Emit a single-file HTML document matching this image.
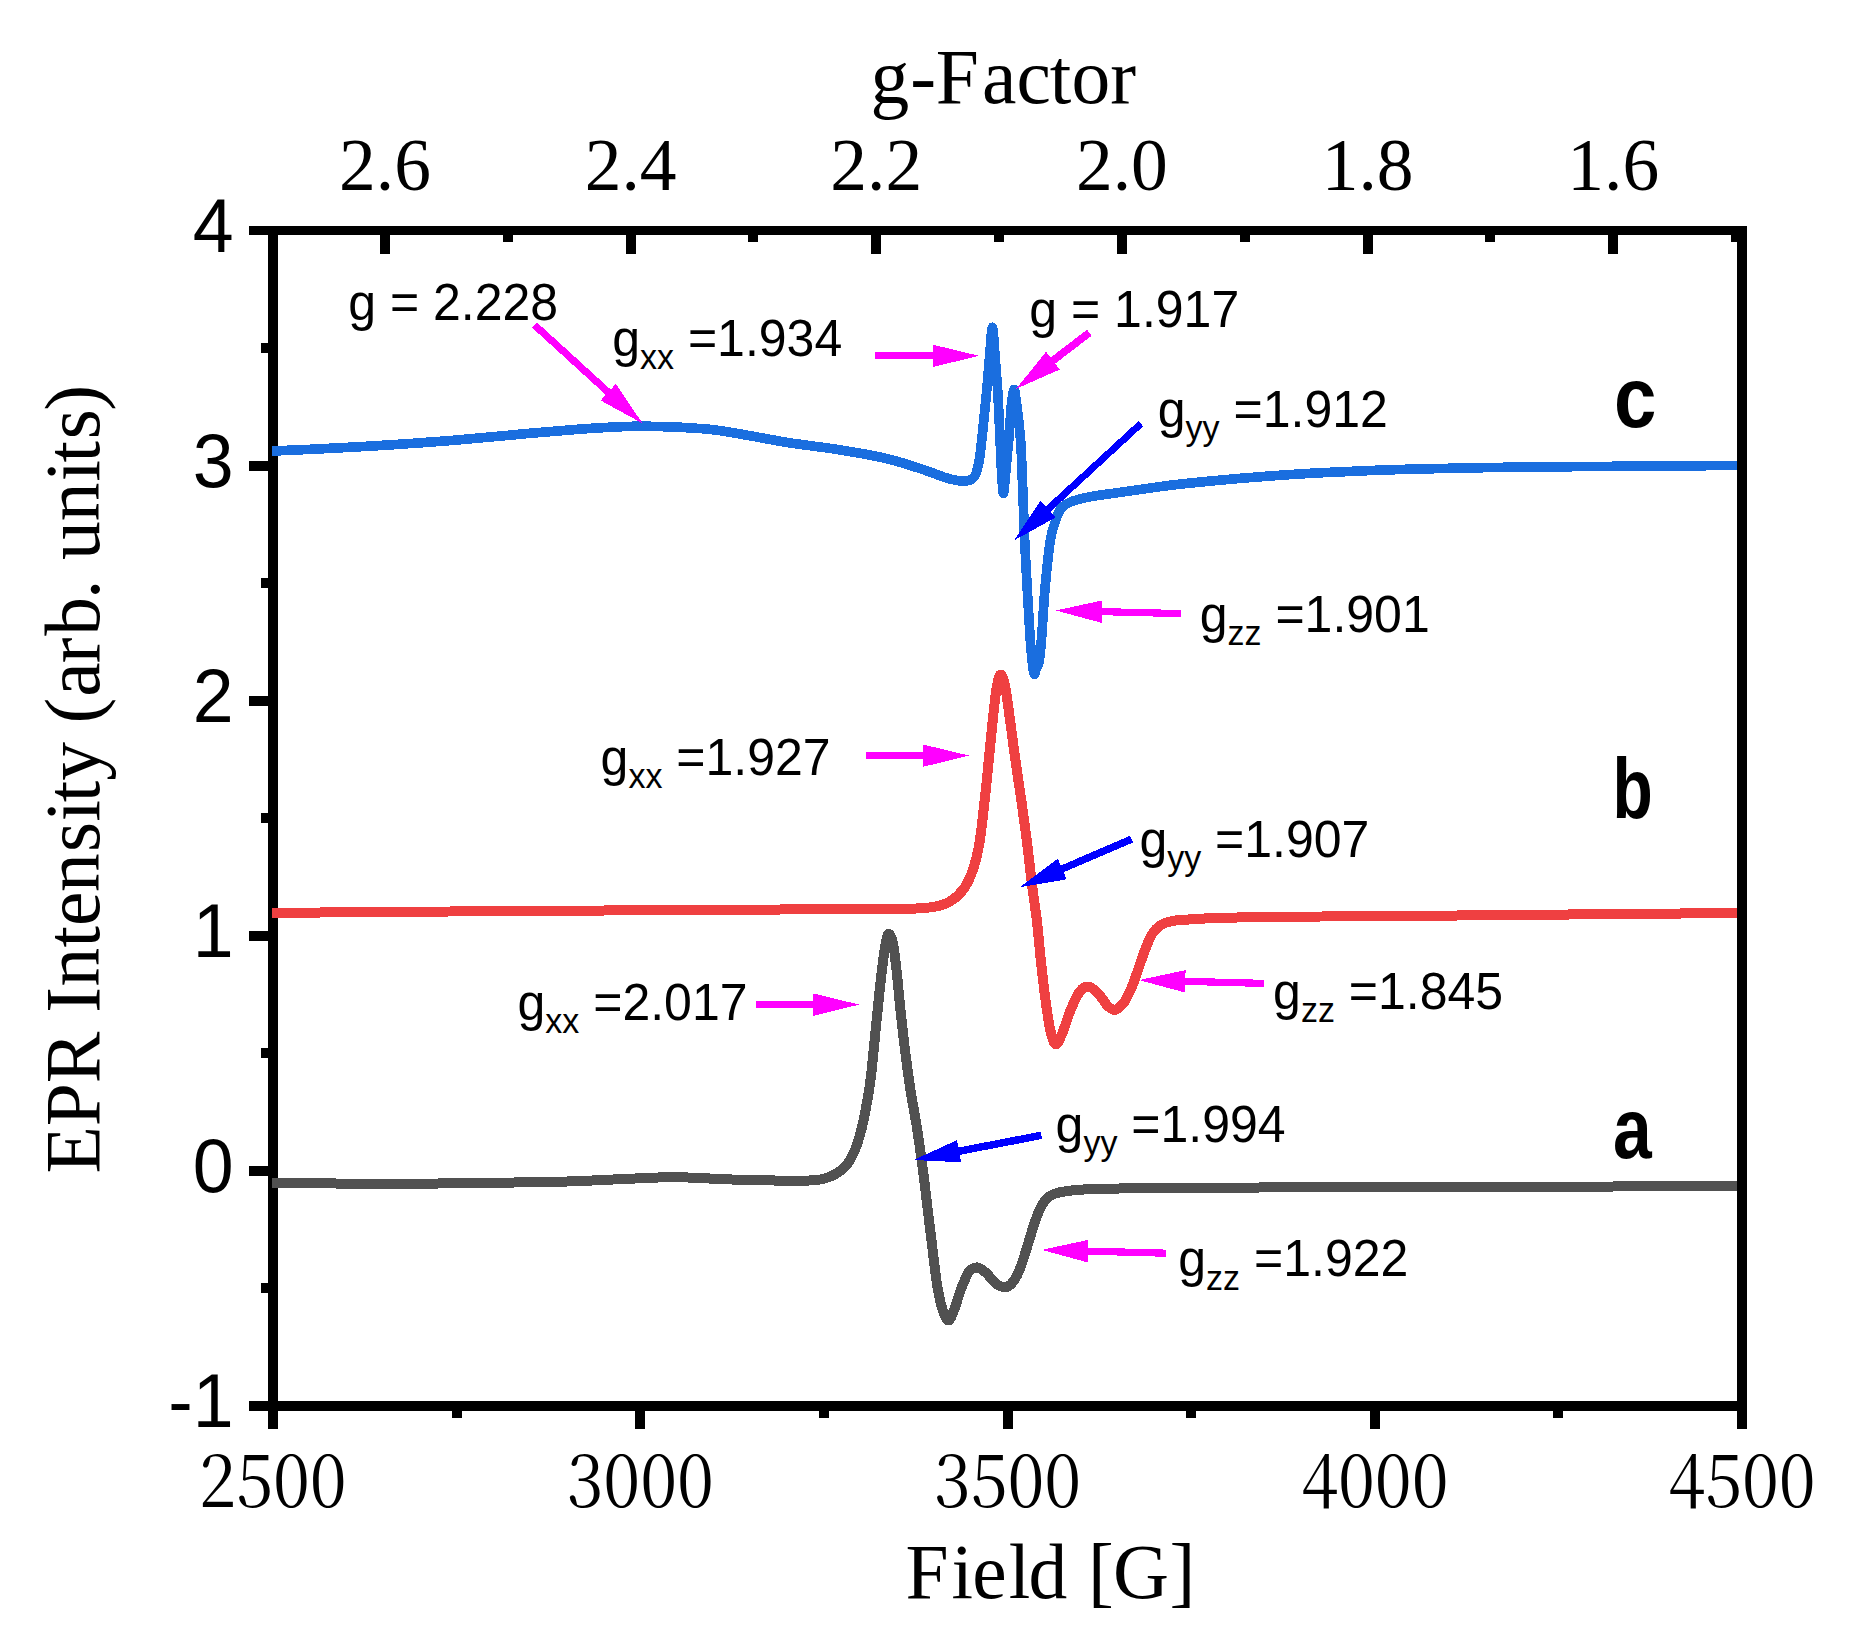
<!DOCTYPE html>
<html lang="en"><head><meta charset="utf-8"><title>EPR spectra</title>
<style>html,body{margin:0;padding:0;background:#fff}svg{display:block}.ser{font-family:"Liberation Serif","Times New Roman",serif}.san{font-family:"Liberation Sans",Arial,sans-serif}.sun{font-family:"Noto Serif CJK SC","Liberation Serif",serif}</style></head><body>
<svg width="1857" height="1640" viewBox="0 0 1857 1640">
<rect width="1857" height="1640" fill="#fff"/>
<defs><clipPath id="plot"><rect x="272" y="235" width="1465" height="1166"/></clipPath></defs>
<g fill="#000" shape-rendering="crispEdges">
<rect x="268" y="226" width="10" height="1203"/>
<rect x="249" y="226" width="1498" height="9"/>
<rect x="249" y="1401" width="1488" height="10"/>
<rect x="249" y="461" width="19" height="10"/>
<rect x="249" y="696" width="19" height="10"/>
<rect x="249" y="931" width="19" height="10"/>
<rect x="249" y="1166" width="19" height="10"/>
<rect x="261" y="343" width="7" height="10"/>
<rect x="261" y="578" width="7" height="10"/>
<rect x="261" y="813" width="7" height="10"/>
<rect x="261" y="1048" width="7" height="10"/>
<rect x="261" y="1283" width="7" height="10"/>
<rect x="635" y="1411" width="10" height="18"/>
<rect x="1003" y="1411" width="10" height="18"/>
<rect x="1370" y="1411" width="10" height="18"/>
<rect x="452" y="1411" width="10" height="7"/>
<rect x="819" y="1411" width="10" height="7"/>
<rect x="1186" y="1411" width="10" height="7"/>
<rect x="1553" y="1411" width="10" height="7"/>
<rect x="380" y="235" width="10" height="19"/>
<rect x="503" y="235" width="10" height="7"/>
<rect x="626" y="235" width="10" height="19"/>
<rect x="748" y="235" width="10" height="7"/>
<rect x="871" y="235" width="10" height="19"/>
<rect x="994" y="235" width="10" height="7"/>
<rect x="1117" y="235" width="10" height="19"/>
<rect x="1240" y="235" width="10" height="7"/>
<rect x="1363" y="235" width="10" height="19"/>
<rect x="1485" y="235" width="10" height="7"/>
<rect x="1608" y="235" width="10" height="19"/>
<rect x="1731" y="235" width="10" height="7"/>
</g>
<g fill="none" stroke-linejoin="round" stroke-linecap="butt" clip-path="url(#plot)" shape-rendering="crispEdges">
<path d="M271.0,1183.3 C296.1,1183.3 375.0,1183.8 421.6,1183.6 C468.2,1183.4 518.5,1182.7 550.8,1182.0 C583.1,1181.3 594.9,1180.2 615.4,1179.4 C635.9,1178.6 654.8,1177.2 673.6,1177.2 C692.5,1177.2 710.8,1178.8 728.5,1179.4 C746.2,1180.0 767.0,1180.4 780.0,1180.6 C793.0,1180.8 799.6,1180.9 806.8,1180.6 C813.9,1180.3 818.0,1180.2 822.9,1179.0 C827.8,1177.8 832.3,1176.0 836.3,1173.6 C840.3,1171.1 844.0,1168.3 847.1,1164.3 C850.2,1160.3 852.7,1155.5 855.1,1149.5 C857.5,1143.5 859.8,1136.0 861.8,1128.0 C863.8,1120.0 865.6,1110.1 867.2,1101.2 C868.8,1092.3 869.9,1085.6 871.2,1074.4 C872.5,1063.2 873.9,1047.5 875.2,1034.1 C876.6,1020.7 877.9,1006.4 879.3,993.9 C880.6,981.4 882.1,968.1 883.3,959.0 C884.5,949.9 885.5,943.6 886.5,939.4 C887.5,935.2 888.2,933.5 889.2,933.9 C890.2,934.3 891.5,936.5 892.7,942.0 C893.9,947.5 895.0,956.2 896.2,967.1 C897.5,978.0 898.8,993.9 900.2,1007.3 C901.6,1020.7 903.1,1034.2 904.7,1047.6 C906.4,1061.0 908.1,1074.4 910.1,1087.8 C912.1,1101.2 914.9,1114.6 917.0,1128.0 C919.1,1141.4 920.9,1154.9 922.7,1168.3 C924.5,1181.7 926.0,1195.1 927.6,1208.5 C929.2,1221.9 931.0,1236.3 932.5,1248.8 C934.0,1261.3 935.3,1273.6 936.9,1283.6 C938.5,1293.6 940.4,1302.8 942.3,1309.0 C944.2,1315.2 946.5,1320.5 948.5,1320.5 C950.5,1320.5 952.3,1314.2 954.4,1309.0 C956.5,1303.8 958.6,1295.2 961.1,1289.0 C963.6,1282.8 966.3,1275.2 969.1,1271.6 C971.9,1268.0 974.8,1267.2 977.7,1267.5 C980.6,1267.8 983.6,1270.7 986.6,1273.4 C989.6,1276.1 992.7,1281.3 996.0,1283.6 C999.3,1285.9 1003.1,1287.8 1006.2,1287.1 C1009.3,1286.4 1012.2,1283.3 1014.7,1279.6 C1017.2,1275.9 1019.1,1270.9 1021.4,1264.9 C1023.6,1258.9 1026.0,1250.6 1028.2,1243.4 C1030.5,1236.2 1032.7,1228.2 1034.9,1221.9 C1037.1,1215.6 1039.1,1210.0 1041.6,1205.8 C1044.0,1201.5 1046.2,1198.7 1049.6,1196.4 C1052.9,1194.1 1055.2,1193.1 1061.7,1191.9 C1068.2,1190.7 1077.3,1189.8 1088.5,1189.2 C1099.7,1188.6 1113.5,1188.6 1128.8,1188.4 C1144.0,1188.2 1151.5,1188.1 1180.0,1187.9 C1208.5,1187.7 1246.7,1187.5 1300.0,1187.3 C1353.3,1187.1 1426.3,1187.0 1500.0,1186.8 C1573.7,1186.6 1701.7,1186.3 1742.0,1186.2" stroke="#515151" stroke-width="10"/>
<path d="M271.0,912.9 C300.8,912.7 389.0,911.9 450.0,911.5 C511.0,911.1 578.7,910.6 637.0,910.3 C695.3,909.9 759.5,909.6 800.0,909.4 C840.5,909.2 862.2,909.4 880.0,909.3 C897.8,909.2 897.8,909.4 906.8,909.0 C915.8,908.6 926.5,908.1 933.7,906.9 C940.9,905.7 944.9,904.5 949.8,901.6 C954.7,898.7 959.4,894.6 963.2,889.5 C967.0,884.4 969.9,878.3 972.6,870.7 C975.3,863.1 977.3,855.5 979.3,843.9 C981.3,832.3 983.0,814.9 984.6,801.0 C986.2,787.1 987.4,774.1 988.7,760.7 C990.1,747.3 991.4,732.7 992.7,720.5 C994.0,708.3 995.4,694.9 996.7,687.3 C998.0,679.6 999.3,674.6 1000.7,674.6 C1002.1,674.6 1003.7,679.6 1005.3,687.3 C1006.9,694.9 1008.4,708.3 1010.1,720.5 C1011.8,732.7 1013.6,747.3 1015.5,760.7 C1017.4,774.1 1019.4,787.1 1021.4,801.0 C1023.4,814.9 1025.5,830.5 1027.2,843.9 C1028.9,857.3 1030.0,868.5 1031.6,881.5 C1033.2,894.5 1035.4,908.3 1037.0,921.7 C1038.6,935.1 1039.5,948.5 1041.0,961.9 C1042.5,975.3 1044.2,990.8 1045.8,1002.2 C1047.4,1013.6 1048.8,1023.5 1050.4,1030.5 C1052.1,1037.5 1053.7,1044.0 1055.7,1044.4 C1057.7,1044.8 1059.9,1038.7 1062.4,1033.0 C1064.9,1027.3 1067.6,1017.1 1070.5,1010.2 C1073.4,1003.3 1076.9,995.3 1079.9,991.4 C1082.9,987.5 1085.6,986.1 1088.7,986.6 C1091.8,987.1 1095.4,990.8 1098.6,994.1 C1101.8,997.4 1105.2,1003.6 1108.0,1006.2 C1110.8,1008.8 1112.8,1010.4 1115.5,1009.7 C1118.2,1009.0 1121.3,1006.1 1124.1,1002.2 C1126.9,998.3 1129.7,991.9 1132.2,986.1 C1134.7,980.3 1136.7,973.6 1138.9,967.3 C1141.1,961.0 1143.4,954.1 1145.6,948.5 C1147.8,942.9 1149.8,937.6 1152.3,933.8 C1154.8,929.9 1157.1,927.5 1160.4,925.4 C1163.8,923.3 1167.1,922.0 1172.4,921.0 C1177.7,920.0 1182.6,919.9 1192.0,919.3 C1201.4,918.7 1207.2,918.1 1228.8,917.6 C1250.4,917.1 1279.2,916.9 1321.6,916.5 C1364.0,916.1 1429.2,915.8 1483.0,915.3 C1536.8,914.8 1601.5,914.2 1644.7,913.8 C1687.9,913.4 1725.8,913.1 1742.0,913.0" stroke="#ef4041" stroke-width="10"/>
<path d="M271.0,451.1 C280.3,450.7 306.4,449.6 327.0,448.5 C347.6,447.4 372.1,446.1 394.6,444.6 C417.1,443.1 439.6,441.5 462.0,439.6 C484.4,437.7 506.6,435.3 529.0,433.4 C551.4,431.5 577.3,429.2 596.6,428.0 C615.9,426.8 627.1,426.1 645.0,426.2 C662.9,426.3 688.2,427.5 704.0,428.8 C719.8,430.1 725.9,431.7 740.0,434.0 C754.1,436.3 772.5,440.1 788.8,442.7 C805.1,445.3 821.4,446.9 837.6,449.5 C853.9,452.1 872.1,455.2 886.3,458.5 C900.5,461.8 913.1,466.3 922.9,469.5 C932.7,472.7 939.1,475.6 945.0,477.5 C950.9,479.4 954.4,480.1 958.0,480.6 C961.6,481.2 964.5,481.1 966.8,480.8 C969.1,480.5 970.5,480.2 972.0,479.0 C973.5,477.8 974.8,476.9 976.0,473.5 C977.2,470.1 978.4,465.4 979.5,458.5 C980.6,451.6 981.8,439.2 982.6,432.0 C983.4,424.8 983.7,421.1 984.3,415.0 C984.9,408.9 985.6,402.7 986.3,395.4 C987.0,388.1 987.7,379.1 988.4,371.0 C989.1,362.9 989.9,352.8 990.4,346.6 C990.9,340.4 991.1,337.2 991.4,334.0 C991.7,330.8 992.1,327.2 992.4,327.2 C992.7,327.2 993.1,330.8 993.4,334.0 C993.7,337.2 993.8,340.4 994.3,346.6 C994.8,352.8 995.6,362.9 996.2,371.0 C996.8,379.1 997.4,384.6 998.0,395.4 C998.6,406.2 999.3,422.8 999.9,435.6 C1000.5,448.4 1001.0,462.4 1001.6,472.0 C1002.2,481.6 1002.7,492.4 1003.3,493.4 C1003.9,494.4 1004.6,483.9 1005.2,478.0 C1005.8,472.1 1006.4,465.1 1007.0,458.0 C1007.6,450.9 1008.4,444.6 1009.1,435.6 C1009.9,426.6 1010.7,411.6 1011.5,404.0 C1012.3,396.4 1013.1,391.2 1013.8,389.8 C1014.4,388.4 1014.6,390.4 1015.4,395.4 C1016.2,400.4 1017.7,411.7 1018.6,419.8 C1019.5,427.9 1020.4,436.0 1020.9,444.1 C1021.4,452.2 1021.6,460.4 1021.9,468.5 C1022.2,476.6 1022.5,481.2 1022.9,492.9 C1023.3,504.6 1023.9,523.0 1024.6,538.8 C1025.3,554.6 1026.3,571.4 1027.2,587.6 C1028.1,603.9 1029.2,623.9 1030.0,636.3 C1030.8,648.7 1031.6,655.7 1032.3,662.0 C1033.0,668.3 1033.5,673.3 1034.2,674.3 C1034.9,675.3 1035.6,670.3 1036.4,668.0 C1037.2,665.7 1038.4,666.0 1039.3,660.7 C1040.2,655.4 1040.7,648.5 1041.7,636.3 C1042.7,624.1 1043.6,603.9 1045.1,587.6 C1046.6,571.4 1048.8,550.0 1050.6,538.8 C1052.4,527.6 1054.4,524.8 1055.7,520.5 C1057.0,516.2 1057.5,515.3 1058.4,513.3 C1059.3,511.3 1059.7,510.0 1061.0,508.5 C1062.3,507.0 1064.0,505.6 1066.0,504.3 C1068.0,503.1 1070.0,502.1 1073.2,501.0 C1076.4,499.9 1080.9,498.7 1085.0,497.8 C1089.1,496.9 1091.8,496.4 1097.6,495.5 C1103.4,494.6 1112.9,493.4 1120.0,492.4 C1127.1,491.4 1131.5,490.7 1140.0,489.5 C1148.5,488.3 1161.0,486.4 1171.0,485.2 C1181.0,484.0 1188.1,483.3 1200.0,482.1 C1211.9,480.9 1228.9,479.3 1242.2,478.2 C1255.5,477.1 1267.0,476.2 1280.0,475.3 C1293.0,474.4 1302.6,473.7 1320.0,472.8 C1337.4,471.9 1361.7,470.8 1384.3,470.0 C1406.9,469.2 1431.7,468.7 1455.4,468.2 C1479.1,467.7 1496.9,467.3 1526.5,467.0 C1556.1,466.7 1597.1,466.5 1633.0,466.2 C1668.9,465.9 1723.8,465.5 1742.0,465.4" stroke="#1a6edf" stroke-width="9.7"/>
</g>
<rect x="1737" y="226" width="10" height="1203" fill="#000" shape-rendering="crispEdges"/>
<g shape-rendering="crispEdges">
<line x1="534.5" y1="325.0" x2="609.0" y2="392.9" stroke="#ff00ff" stroke-width="7.2"/><polygon points="600.7,400.5 642.5,423.4 615.8,383.9" fill="#ff00ff"/>
<line x1="875.0" y1="355.8" x2="933.6" y2="355.8" stroke="#ff00ff" stroke-width="7.2"/><polygon points="932.6,367.1 978.9,355.8 932.6,344.6" fill="#ff00ff"/>
<line x1="1089.3" y1="332.7" x2="1052.1" y2="361.2" stroke="#ff00ff" stroke-width="7.6"/><polygon points="1046.1,351.7 1016.2,388.8 1059.8,369.5" fill="#ff00ff"/>
<line x1="1140.8" y1="423.7" x2="1047.3" y2="509.8" stroke="#0000ff" stroke-width="7.0"/><polygon points="1040.4,500.8 1013.9,540.5 1055.6,517.4" fill="#0000ff"/>
<line x1="1181.0" y1="613.6" x2="1101.1" y2="611.6" stroke="#ff00ff" stroke-width="7.2"/><polygon points="1102.4,600.4 1055.8,610.5 1101.8,622.9" fill="#ff00ff"/>
<line x1="866.0" y1="755.6" x2="923.8" y2="755.6" stroke="#ff00ff" stroke-width="7.2"/><polygon points="922.8,766.9 969.1,755.6 922.8,744.4" fill="#ff00ff"/>
<line x1="1131.6" y1="839.1" x2="1061.3" y2="869.3" stroke="#0000ff" stroke-width="7.3"/><polygon points="1057.8,858.6 1019.7,887.2 1066.7,879.3" fill="#0000ff"/>
<line x1="1263.9" y1="983.4" x2="1184.3" y2="981.3" stroke="#ff00ff" stroke-width="7.2"/><polygon points="1185.6,970.1 1139.0,980.1 1185.0,992.5" fill="#ff00ff"/>
<line x1="756.0" y1="1004.6" x2="814.0" y2="1004.6" stroke="#ff00ff" stroke-width="7.2"/><polygon points="813.0,1015.9 859.3,1004.6 813.0,993.4" fill="#ff00ff"/>
<line x1="1041.4" y1="1135.3" x2="958.1" y2="1151.4" stroke="#0000ff" stroke-width="7.5"/><polygon points="956.9,1140.2 913.6,1160.0 961.2,1162.3" fill="#0000ff"/>
<line x1="1166.0" y1="1253.2" x2="1087.0" y2="1251.1" stroke="#ff00ff" stroke-width="7.2"/><polygon points="1088.3,1239.9 1041.7,1249.9 1087.7,1262.4" fill="#ff00ff"/>
</g>
<g class="san" font-size="50" fill="#000">
<text transform="translate(348.2,319.7) scale(1,1.030)" x="0" y="0">g = 2.228</text>
<text transform="translate(612.2,356.0) scale(1,1.030)" x="0" y="0">g<tspan font-size="34" dy="12.8">xx</tspan><tspan dy="-12.8"> =1.934</tspan></text>
<text transform="translate(1029.3,326.8) scale(1,1.030)" x="0" y="0">g = 1.917</text>
<text transform="translate(1157.8,427.3) scale(1,1.030)" x="0" y="0">g<tspan font-size="34" dy="12.8">yy</tspan><tspan dy="-12.8"> =1.912</tspan></text>
<text transform="translate(1199.7,631.8) scale(1,1.030)" x="0" y="0">g<tspan font-size="34" dy="12.8">zz</tspan><tspan dy="-12.8"> =1.901</tspan></text>
<text transform="translate(600.6,775.0) scale(1,1.030)" x="0" y="0">g<tspan font-size="34" dy="12.8">xx</tspan><tspan dy="-12.8"> =1.927</tspan></text>
<text transform="translate(1139.4,857.0) scale(1,1.030)" x="0" y="0">g<tspan font-size="34" dy="12.8">yy</tspan><tspan dy="-12.8"> =1.907</tspan></text>
<text transform="translate(1273.1,1008.8) scale(1,1.030)" x="0" y="0">g<tspan font-size="34" dy="12.8">zz</tspan><tspan dy="-12.8"> =1.845</tspan></text>
<text transform="translate(517.5,1020.1) scale(1,1.030)" x="0" y="0">g<tspan font-size="34" dy="12.8">xx</tspan><tspan dy="-12.8"> =2.017</tspan></text>
<text transform="translate(1055.6,1141.5) scale(1,1.030)" x="0" y="0">g<tspan font-size="34" dy="12.8">yy</tspan><tspan dy="-12.8"> =1.994</tspan></text>
<text transform="translate(1178.3,1276.4) scale(1,1.030)" x="0" y="0">g<tspan font-size="34" dy="12.8">zz</tspan><tspan dy="-12.8"> =1.922</tspan></text>
</g>
<g class="san" font-size="86" font-weight="bold" fill="#000">
<text transform="translate(1613.92,427.2) scale(0.887,1)" x="0" y="0">c</text>
<text transform="translate(1612.56,818.2) scale(0.766,1)" x="0" y="0">b</text>
<text transform="translate(1612.96,1158.1) scale(0.809,1)" x="0" y="0">a</text>
</g>
<g class="san" font-size="73.5" fill="#000" text-anchor="end">
<text transform="translate(233.6,251.8) scale(1,1.045)" x="0" y="0">4</text>
<text transform="translate(233.6,486.9) scale(1,1.045)" x="0" y="0">3</text>
<text transform="translate(233.6,722.0) scale(1,1.045)" x="0" y="0">2</text>
<text transform="translate(233.6,957.1) scale(1,1.045)" x="0" y="0">1</text>
<text transform="translate(233.6,1192.2) scale(1,1.045)" x="0" y="0">0</text>
<text transform="translate(233.6,1427.3) scale(1,1.045)" x="0" y="0">-1</text>
</g>
<g class="ser" font-size="73.5" fill="#000" text-anchor="middle">
<text x="385.0" y="190.2">2.6</text>
<text x="630.6" y="190.2">2.4</text>
<text x="876.3" y="190.2">2.2</text>
<text x="1121.9" y="190.2">2.0</text>
<text x="1367.6" y="190.2">1.8</text>
<text x="1613.2" y="190.2">1.6</text>
</g>
<g class="sun" font-size="73.6" fill="#000" text-anchor="middle">
<text transform="translate(273.0,1507.3) scale(0.91,1)" x="0" y="0">2500</text>
<text transform="translate(640.2,1507.3) scale(0.91,1)" x="0" y="0">3000</text>
<text transform="translate(1007.5,1507.3) scale(0.91,1)" x="0" y="0">3500</text>
<text transform="translate(1374.8,1507.3) scale(0.91,1)" x="0" y="0">4000</text>
<text transform="translate(1742.0,1507.3) scale(0.91,1)" x="0" y="0">4500</text>
</g>
<g class="ser" font-size="77.5" fill="#000">
<text x="870.6 910.3 935.7 981.9 1016.4 1049.7 1071.4 1110.3" y="102.9">g-Factor</text>
<text x="905.6 951.4 972.2 1008.7 1028.4 1067.1 1087.9 1113.1 1169.5" y="1598.4">Field [G]</text>
<text transform="translate(99.1,1200.0) rotate(-90)" x="26.6 73.8 116.7 168.4 187.2 213.6 252.4 274.1 308.1 347.9 378.5 397.7 419.2 457.9 476.4 503.3 536.8 564.3 600.9 620.3 639.9 678.7 718.5 737.4 760.7 789.3" y="0">EPR Intensity (arb. units)</text>
</g>
</svg></body></html>
